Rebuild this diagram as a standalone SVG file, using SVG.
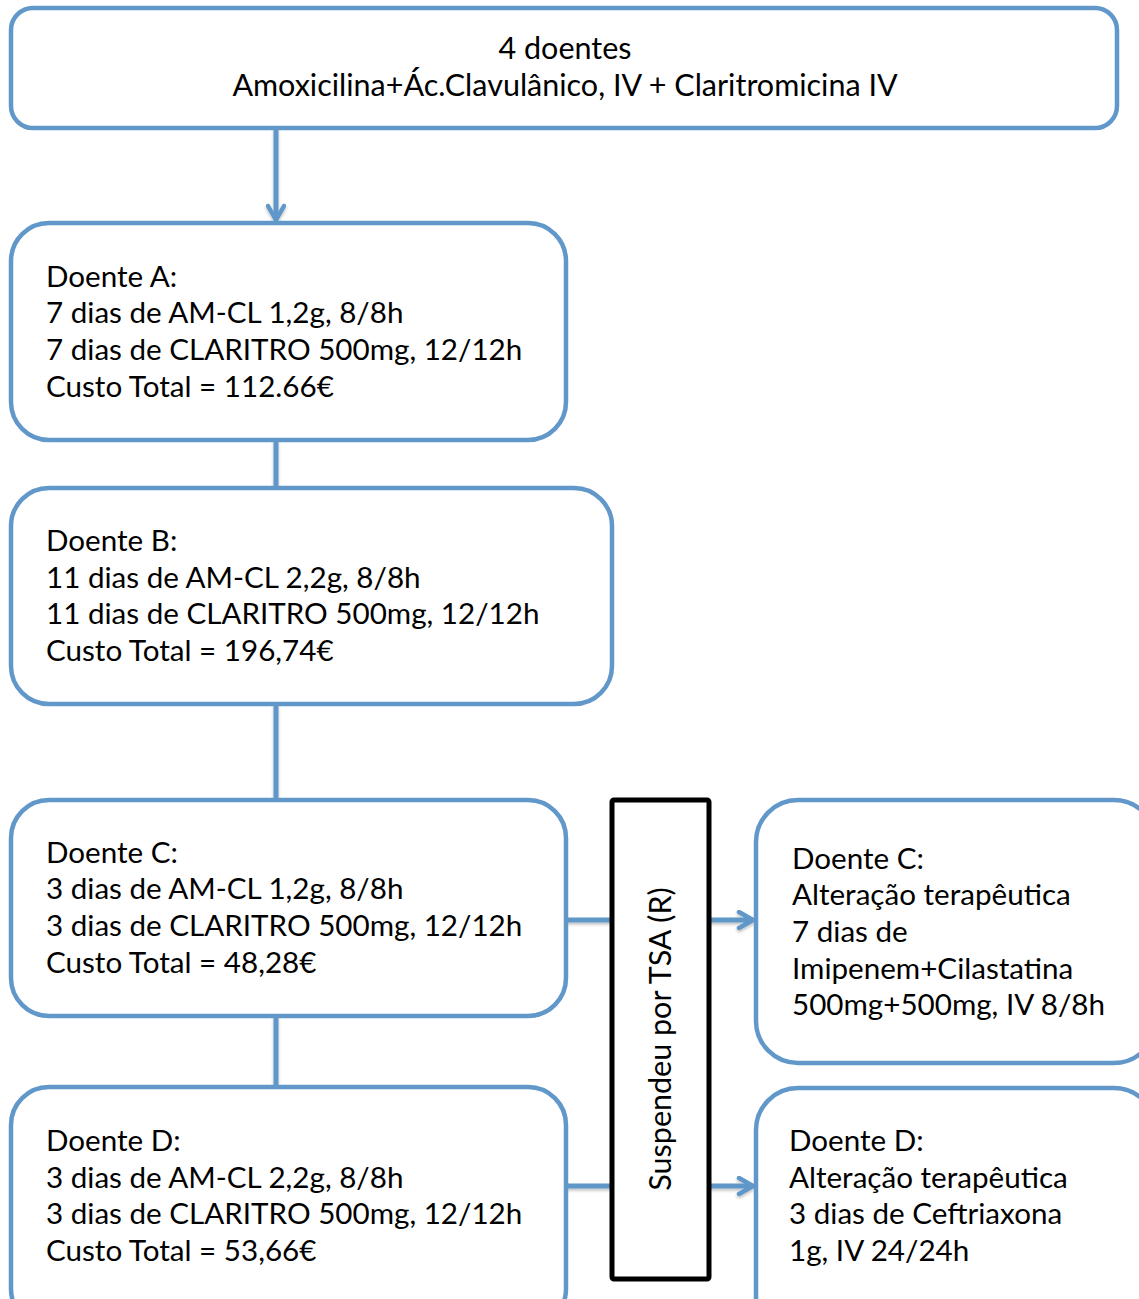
<svg xmlns="http://www.w3.org/2000/svg" width="1139" height="1299" viewBox="0 0 1139 1299">
  <style>
    .box { fill: #ffffff; stroke: #6197c9; stroke-width: 4.5; }
    .gate { fill: #ffffff; stroke: #000000; stroke-width: 5; }
    .link { fill: none; stroke: #6197c9; stroke-width: 5; }
    text { font-family: Lato, "Open Sans", "Liberation Sans", sans-serif; font-size: 29.6px; fill: #000000; }
    .wide { font-size: 30.5px; }
  </style>
  <defs>
    <marker id="arrow" viewBox="0 0 20 20" refX="17" refY="10" markerWidth="20" markerHeight="20" markerUnits="userSpaceOnUse" orient="auto">
      <path d="M3,2 L17,10 L3,18" fill="none" stroke="#6197c9" stroke-width="4.5" stroke-linecap="round" stroke-linejoin="round"/>
    </marker>
    <filter id="soft" x="-50%" y="-50%" width="200%" height="200%">
      <feDropShadow dx="0" dy="2" stdDeviation="1.5" flood-color="#000000" flood-opacity="0.25"/>
    </filter>
  </defs>

  <!-- connectors -->
  <g id="connectors" filter="url(#soft)">
    <path class="link" d="M276,128 L276,220" marker-end="url(#arrow)"/>
    <path class="link" d="M276,440 L276,488"/>
    <path class="link" d="M276,704 L276,800"/>
    <path class="link" d="M276,1016 L276,1087"/>
    <path class="link" d="M566,920 L611,920"/>
    <path class="link" d="M710,920 L753,920" marker-end="url(#arrow)"/>
    <path class="link" d="M566,1186 L611,1186"/>
    <path class="link" d="M710,1186 L753,1186" marker-end="url(#arrow)"/>
  </g>

  <g id="start">
    <rect class="box" x="11" y="8" width="1106" height="120" rx="22"/>
    <text class="wide" x="565" y="59" text-anchor="middle">4 doentes</text>
    <text class="wide" x="565" y="96" text-anchor="middle">Amoxicilina+Ác.Clavulânico, IV + Claritromicina IV</text>
  </g>

  <g id="doente-a">
    <rect class="box" x="11" y="223" width="555" height="217" rx="38"/>
    <text x="46" y="287">Doente A:</text>
    <text x="46" y="323">7 dias de AM-CL 1,2g, 8/8h</text>
    <text x="46" y="360">7 dias de CLARITRO 500mg, 12/12h</text>
    <text x="46" y="397">Custo Total = 112.66€</text>
  </g>

  <g id="doente-b">
    <rect class="box" x="11" y="488" width="601" height="216" rx="38"/>
    <text x="46" y="551">Doente B:</text>
    <text x="46" y="588">11 dias de AM-CL 2,2g, 8/8h</text>
    <text x="46" y="624">11 dias de CLARITRO 500mg, 12/12h</text>
    <text x="46" y="661">Custo Total = 196,74€</text>
  </g>

  <g id="doente-c">
    <rect class="box" x="11" y="800" width="555" height="216" rx="38"/>
    <text x="46" y="863">Doente C:</text>
    <text x="46" y="899">3 dias de AM-CL 1,2g, 8/8h</text>
    <text x="46" y="936">3 dias de CLARITRO 500mg, 12/12h</text>
    <text x="46" y="973">Custo Total = 48,28€</text>
  </g>

  <g id="doente-d">
    <rect class="box" x="11" y="1087" width="555" height="240" rx="38"/>
    <text x="46" y="1151">Doente D:</text>
    <text x="46" y="1188">3 dias de AM-CL 2,2g, 8/8h</text>
    <text x="46" y="1224">3 dias de CLARITRO 500mg, 12/12h</text>
    <text x="46" y="1261">Custo Total = 53,66€</text>
  </g>

  <g id="suspensao">
    <rect class="gate" x="612" y="800" width="97" height="479" rx="2"/>
    <text class="wide" transform="translate(671,1039) rotate(-90)" text-anchor="middle">Suspendeu por TSA (R)</text>
  </g>

  <g id="doente-c-alteracao">
    <rect class="box" x="756" y="800" width="400" height="263" rx="42"/>
    <text x="792" y="869">Doente C:</text>
    <text x="792" y="905">Alteração terapêutica</text>
    <text x="792" y="942">7 dias de</text>
    <text x="792" y="979">Imipenem+Cilastatina</text>
    <text x="792" y="1015">500mg+500mg, IV 8/8h</text>
  </g>

  <g id="doente-d-alteracao">
    <rect class="box" x="756" y="1088" width="400" height="260" rx="42"/>
    <text x="789" y="1151">Doente D:</text>
    <text x="789" y="1188">Alteração terapêutica</text>
    <text x="789" y="1224">3 dias de Ceftriaxona</text>
    <text x="789" y="1261">1g, IV 24/24h</text>
  </g>
</svg>
